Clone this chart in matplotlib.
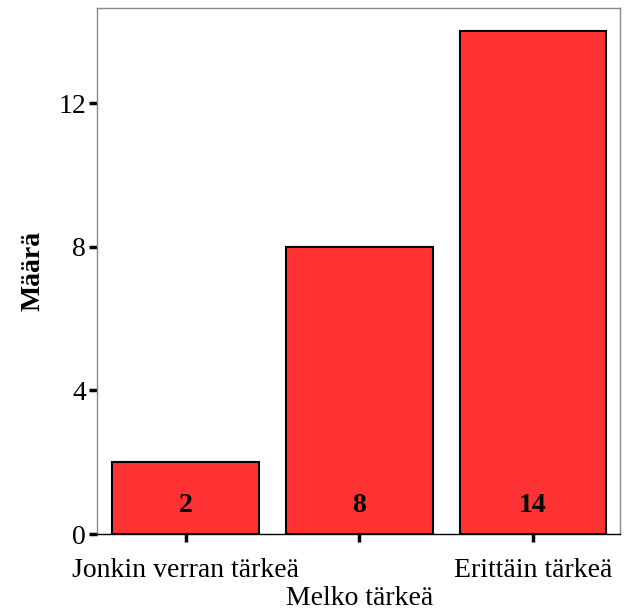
import matplotlib.pyplot as plt
import numpy as np

categories = ["Jonkin verran tärkeä", "Melko tärkeä", "Erittäin tärkeä"]
counts = [2, 8, 14]
yticks = [0, 4, 8, 12]

plt.rcParams['font.family'] = ['Liberation Serif', 'DejaVu Serif']

fig = plt.figure(figsize=(6.27, 6.15), dpi=100)
ax = fig.add_axes([0.1547, 0.1317, 0.834, 0.855])

x = np.arange(len(categories))
ax.bar(x, counts, width=0.845, color="#ff3333", edgecolor="black", linewidth=1.5, zorder=2)

for xi, c in zip(x, counts):
    ax.text(xi, 0.8, str(c), ha="center", va="center", fontsize=20, fontweight="bold")

ax.set_xlim(-0.51, 2.5)
ax.set_ylim(0, 14.64)
ax.set_yticks(yticks)
ax.set_xticks(x)
# middle label drops to a second row so the long names don't collide
labels = [lab if i % 2 == 0 else "\n" + lab for i, lab in enumerate(categories)]
ax.set_xticklabels(labels, fontsize=20, linespacing=1.2)
ax.tick_params(axis="y", labelsize=20, length=6, width=2.5, color="black", pad=2)
ax.tick_params(axis="x", length=6, width=2.5, color="black", pad=11)

for side in ["left", "top", "right"]:
    ax.spines[side].set_color("#888888")
    ax.spines[side].set_linewidth(1)
ax.spines["bottom"].set_color("black")
ax.spines["bottom"].set_linewidth(1)

ax.set_ylabel("Määrä", fontsize=20, fontweight="bold", labelpad=9)

fig.savefig("out.png", dpi=100)
